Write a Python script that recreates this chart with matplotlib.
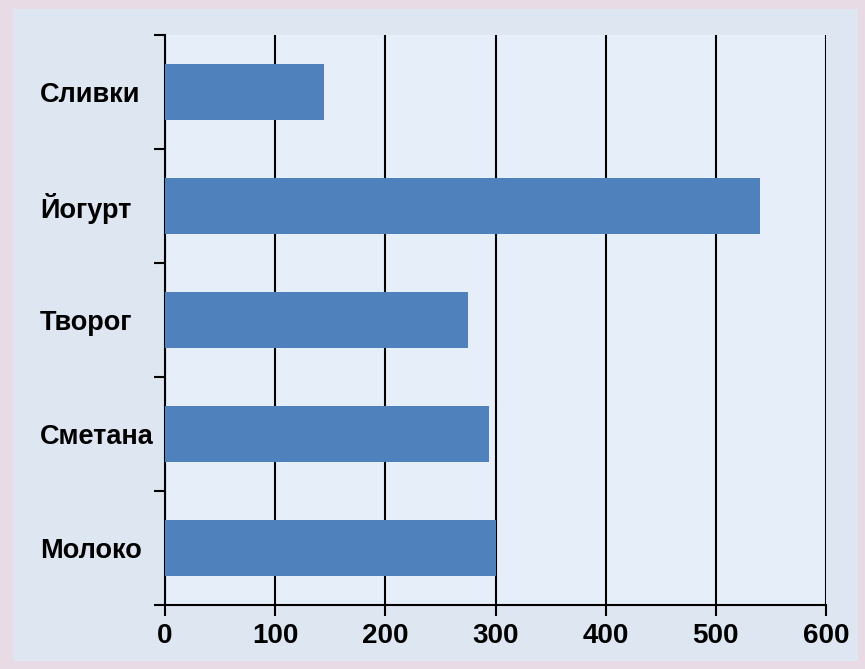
import numpy as np
import matplotlib.pyplot as plt
from matplotlib.patches import Rectangle

# Данные
categories = ['Молоко', 'Сметана', 'Творог', 'Йогурт', 'Сливки']
values = [300, 294, 275, 540, 144]
xticks = [0, 100, 200, 300, 400, 500, 600]

plt.rcParams['font.family'] = ['Liberation Sans', 'DejaVu Sans']

fig = plt.figure(figsize=(8.65, 6.69), dpi=100, facecolor='#e9dbe6')
# светлая панель
fig.patches.append(Rectangle((13 / 865, 8 / 669), 845 / 865, 652 / 669,
                             transform=fig.transFigure, facecolor='#dde6f1',
                             edgecolor='none', zorder=-10))

ax = fig.add_axes([165 / 865, 64 / 669, 661 / 865, 570 / 669])
ax.set_facecolor('#e6eff9')

y = np.arange(len(categories))
ax.barh(y, values, height=0.49, color='#4f81bd', zorder=3)

ax.set_xlim(0, 600)
ax.set_ylim(-0.5, len(categories) - 0.5)
ax.set_xticks(xticks)
ax.set_xticklabels([str(v) for v in xticks], fontsize=20, fontweight='bold')
ax.grid(axis='x', color='black', linewidth=1.5, zorder=1)

# деления между категориями, подписи по центру
ax.set_yticks(np.arange(-0.5, len(categories), 1.0))
ax.set_yticklabels([])
ax.set_yticks(y, minor=True)
ax.set_yticklabels(categories, minor=True, fontsize=19.5, fontweight='bold',
                   ha='left')
ax.tick_params(axis='y', which='major', length=8, width=1.5, color='black')
ax.tick_params(axis='y', which='minor', length=0, pad=90)
ax.tick_params(axis='x', length=8, width=1.5, pad=5)

for s in ['top', 'right']:
    ax.spines[s].set_visible(False)
for s in ['left', 'bottom']:
    ax.spines[s].set_linewidth(1.5)

plt.savefig('out.png', dpi=100, facecolor=fig.get_facecolor())
